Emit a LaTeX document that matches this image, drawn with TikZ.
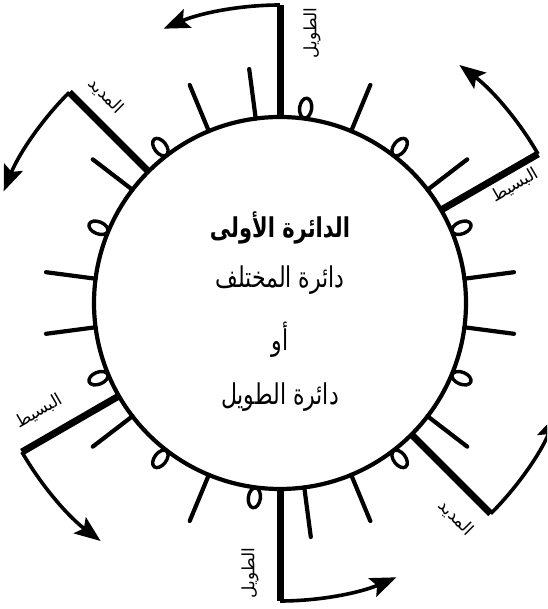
\documentclass[tikz,border=0pt]{standalone}
\usepackage{fontspec}
\usetikzlibrary{arrows.meta}
\TeXXeTstate=1
\newfontfamily\arabicfont[Script=Arabic]{DejaVu Sans}
\newcommand{\artxt}[1]{{\arabicfont\beginR #1\endR}}
\begin{document}
\begin{tikzpicture}[x=1pt,y=1pt,
  rim/.style={line width=4.2pt},
  tick/.style={line width=4.2pt, line cap=round},
  zero/.style={line width=3.4pt},
  bar/.style={line width=7pt},
  flow/.style={line width=3.6pt, -{Stealth[length=26pt,width=20pt,inset=5pt]}},
  lbl/.style={font=\arabicfont\fontsize{17}{20}\selectfont, inner sep=0pt},
  ttl/.style={font=\arabicfont\fontsize{22}{24}\selectfont, inner sep=0pt, yscale=1.3, transform shape}
]
\clip (-280,-306) rectangle (267,303);
\useasboundingbox (-280,-306) rectangle (267,303);
\coordinate (O) at (0,0);
\draw[rim] (O) circle[radius=186];
% haraka marks
\foreach \a [count=\i] in {7.5,37.5,67.5,97.5,112.5,142.5,172.5,187.5,217.5,247.5,277.5,292.5,322.5,352.5}{
  \coordinate (ti\i) at (\a:186);
  \coordinate (to\i) at (\a:236);
  \draw[tick] (ti\i) -- (to\i);
}
% sukun marks
\foreach \a in {22.5,52.5,82.5,127.5,157.5,202.5,232.5,262.5,307.5,337.5}{
  \draw[zero, rotate=\a] (196.5,0) ellipse[x radius=10, y radius=6];
}
% start bars and arrows
\foreach \a/\n in {90/T1,135/M1,30/B1,210/B2,270/T2,315/M2}{
  \coordinate (\n s) at (\a:186);
  \coordinate (\n c) at (\a:298);
  \draw[bar] (\n s) -- (\n c);
  \draw[flow] (\n c) arc[start angle=\a, end angle=\a+23, radius=298];
}
% labels
\node[lbl, rotate=90] (LT1) at (32,270) {\artxt{الطويل}};
\node[lbl, rotate=30] (LB1) at (235,118) {\artxt{البسيط}};
\node[lbl, rotate=-45] (LM1) at (-174,207) {\artxt{المديد}};
\node[lbl, rotate=30] (LB2) at (-241,-108) {\artxt{البسيط}};
\node[lbl, rotate=-45] (LM2) at (176,-215) {\artxt{المديد}};
\node[lbl, rotate=90] (LT2) at (-30,-270) {\artxt{الطويل}};
% centre text
\node[ttl, font=\arabicfont\bfseries\fontsize{21}{24}\selectfont] (C1) at (0,75) {\artxt{الدائرة الأولى}};
\node[ttl] (C2) at (0,23) {\artxt{دائرة المختلف}};
\node[ttl] (C3) at (0,-37) {\artxt{أو}};
\node[ttl] (C4) at (0,-94) {\artxt{دائرة الطويل}};
\end{tikzpicture}
\end{document}
